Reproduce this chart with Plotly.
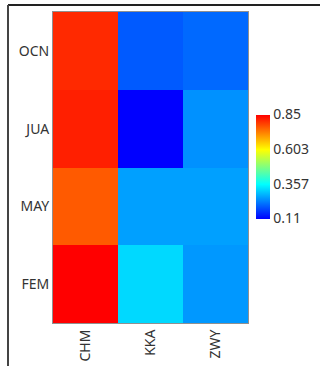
import plotly.graph_objects as go

x_labels = ["CHM", "KKA", "ZWY"]
y_labels = ["FEM", "MAY", "JUA", "OCN"]
# rows follow y_labels (bottom to top), columns follow x_labels
z_values = [
    [0.85, 0.32, 0.257],
    [0.763, 0.265, 0.265],
    [0.82, 0.11, 0.25],
    [0.81, 0.197, 0.212],
]
cb_ticks = [0.11, 0.357, 0.603, 0.85]
cb_text = ["0.11", "0.357", "0.603", "0.85"]

colorscale = [
    [0.0, "#0000ff"],
    [1 / 3, "#00ffff"],
    [2 / 3, "#ffff00"],
    [1.0, "#ff0000"],
]

W, H = 320, 366
L, R, T, B = 53, 72, 12, 43
pw, ph = W - L - R, H - T - B


def px_x(px):
    return (px - L) / pw


def px_y(py):
    return 1 - (py - T) / ph


FONT = dict(family="Noto Sans", size=14, color="#333333")

fig = go.Figure(
    go.Heatmap(
        x=x_labels,
        y=y_labels,
        z=z_values,
        zmin=0.11,
        zmax=0.85,
        colorscale=colorscale,
        colorbar=dict(
            x=px_x(256),
            xanchor="left",
            xpad=0,
            y=px_y(166.5),
            yanchor="middle",
            ypad=0,
            len=104 / ph,
            thickness=14,
            outlinewidth=0,
            tickvals=cb_ticks,
            ticktext=cb_text,
            ticks="",
            ticklen=2,
            tickfont=FONT,
        ),
    )
)

fig.update_layout(
    width=W,
    height=H,
    margin=dict(l=L, r=R, t=T, b=B, autoexpand=False),
    paper_bgcolor="white",
    plot_bgcolor="white",
    xaxis=dict(
        tickangle=-90,
        showline=True,
        mirror=True,
        linecolor="#909090",
        linewidth=1,
        ticks="",
        automargin=False,
        tickfont=FONT,
        showgrid=False,
        zeroline=False,
    ),
    yaxis=dict(
        showline=True,
        mirror=True,
        linecolor="#909090",
        linewidth=1,
        ticks="",
        automargin=False,
        tickfont=FONT,
        showgrid=False,
        zeroline=False,
    ),
    shapes=[
        dict(type="line", xref="paper", yref="paper",
             x0=px_x(8), x1=px_x(W + 2), y0=px_y(5), y1=px_y(5),
             line=dict(color="#222222", width=2)),
        dict(type="line", xref="paper", yref="paper",
             x0=px_x(8), x1=px_x(8), y0=px_y(5), y1=px_y(H + 2),
             line=dict(color="#444444", width=2)),
    ],
)

fig.write_html(
    "out.html",
    config={"displayModeBar": False},
    post_script="document.body.style.margin='0';document.body.style.overflow='hidden';",
)
